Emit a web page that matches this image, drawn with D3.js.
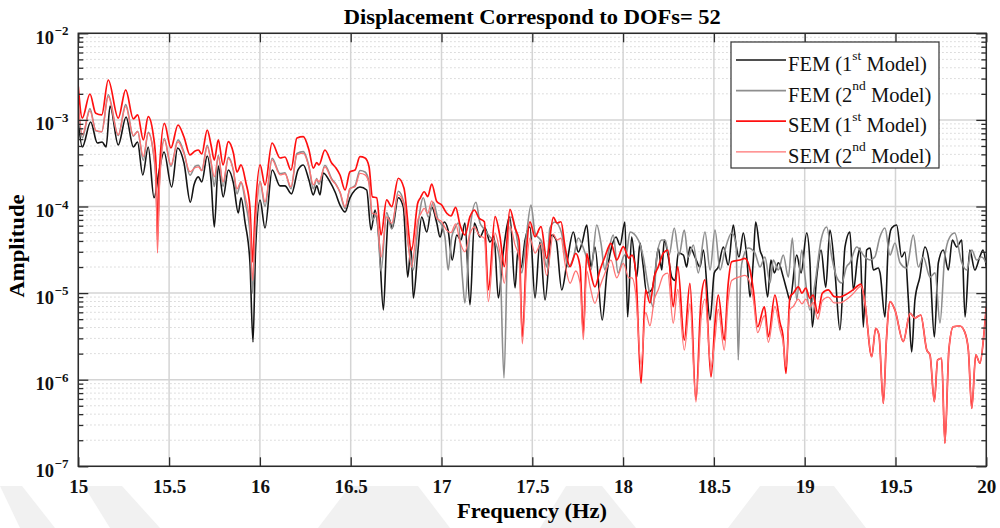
<!DOCTYPE html>
<html>
<head>
<meta charset="utf-8">
<script src="https://cdn.jsdelivr.net/npm/d3@7"></script>
<style>
  html, body { margin: 0; padding: 0; background: #fff; }
  svg { display: block; }
</style>
</head>
<body>
<svg id="chart" width="1000" height="528"></svg>
<script>
// ---- Data: displacement amplitude spectra at DOF 52 ----
// Frequency points (Hz) shared by both SEM responses
const semFreq = [
  15.000, 15.022, 15.064, 15.096, 15.129, 15.165, 15.220, 15.261, 15.303, 15.327,
  15.358, 15.385, 15.413, 15.428, 15.436, 15.447, 15.474, 15.510, 15.549, 15.582,
  15.615, 15.643, 15.661, 15.680, 15.710, 15.731, 15.749, 15.771, 15.797, 15.826,
  15.854, 15.874, 15.896, 15.922, 15.945, 15.960, 15.973, 16.001, 16.028, 16.067,
  16.111, 16.138, 16.171, 16.204, 16.239, 16.270, 16.294, 16.313, 16.325, 16.358,
  16.395, 16.419, 16.441, 16.469, 16.496, 16.524, 16.551, 16.579, 16.601, 16.619,
  16.643, 16.667, 16.698, 16.726, 16.762, 16.793, 16.835, 16.869, 16.884, 16.905,
  16.924, 16.946, 16.974, 17.001, 17.029, 17.052, 17.078, 17.102, 17.129, 17.157,
  17.181, 17.206, 17.236, 17.258, 17.295, 17.322, 17.346, 17.377, 17.405, 17.427,
  17.445, 17.469, 17.487, 17.515, 17.548, 17.579, 17.616, 17.636, 17.658, 17.680,
  17.708, 17.739, 17.763, 17.781, 17.800, 17.818, 17.845, 17.873, 17.900, 17.933,
  17.965, 18.001, 18.032, 18.049, 18.069, 18.099, 18.124, 18.148, 18.172, 18.194,
  18.221, 18.246, 18.276, 18.301, 18.337, 18.368, 18.401, 18.429, 18.451, 18.484,
  18.506, 18.524, 18.557, 18.578, 18.598, 18.644, 18.671, 18.699, 18.717, 18.741,
  18.778, 18.800, 18.836, 18.864, 18.880, 18.897, 18.919, 18.937, 18.965, 18.985,
  19.006, 19.029, 19.046, 19.072, 19.097, 19.130, 19.163, 19.194, 19.222, 19.266,
  19.310, 19.332, 19.369, 19.391, 19.409, 19.433, 19.450, 19.470, 19.497, 19.543,
  19.580, 19.606, 19.639, 19.672, 19.690, 19.714, 19.732, 19.754, 19.772, 19.794,
  19.818, 19.854, 19.881, 19.901, 19.920, 19.942, 19.965, 19.989, 20.000
];

// SEM, 1st model
const sem1Amp = [
  2.42e-3, 1.05e-3, 1.99e-3, 1.19e-3, 1.14e-3, 2.89e-3, 1.05e-3, 2.22e-3, 1.03e-3, 1.14e-3,
  5.87e-4, 1.09e-3, 6.69e-4, 3.02e-4, 4.10e-5, 2.64e-4, 9.14e-4, 4.74e-4, 8.73e-4, 6.35e-4,
  3.94e-4, 4.37e-4, 4.49e-4, 4.04e-4, 7.65e-4, 5.13e-4, 3.44e-4, 5.87e-4, 3.02e-4, 5.60e-4,
  4.14e-4, 2.50e-4, 3.02e-4, 1.92e-4, 9.87e-5, 2.29e-5, 7.98e-5, 3.02e-4, 1.77e-4, 5.41e-4,
  3.63e-4, 3.73e-4, 2.64e-4, 6.18e-4, 6.40e-4, 4.49e-4, 2.78e-4, 3.21e-4, 3.02e-4, 4.49e-4,
  3.18e-4, 2.78e-4, 2.31e-4, 1.55e-4, 2.52e-4, 2.64e-4, 3.76e-4, 3.63e-4, 2.88e-4, 1.30e-4,
  1.26e-4, 4.69e-5, 1.19e-4, 9.95e-5, 2.12e-4, 1.64e-4, 3.14e-5, 1.09e-4, 1.26e-4, 1.48e-4,
  1.30e-4, 1.82e-4, 1.14e-4, 1.04e-4, 8.35e-5, 7.77e-5, 9.79e-5, 6.12e-5, 4.69e-5, 7.63e-5,
  9.11e-5, 7.37e-5, 6.67e-5, 1.09e-5, 7.63e-5, 4.48e-5, 2.02e-5, 9.28e-5, 5.64e-5, 4.10e-5,
  3.14e-6, 3.29e-5, 6.67e-5, 4.48e-5, 5.85e-5, 2.52e-5, 7.50e-5, 6.45e-5, 6.67e-5, 3.44e-5,
  2.02e-5, 2.88e-5, 2.02e-5, 3.44e-6, 2.88e-5, 1.85e-5, 1.18e-5, 1.85e-5, 2.63e-5, 3.76e-5,
  2.41e-5, 3.44e-5, 2.54e-5, 2.75e-5, 1.85e-5, 9.09e-7, 1.09e-5, 7.69e-6, 1.55e-5, 2.02e-5,
  2.88e-5, 3.14e-5, 6.96e-6, 2.02e-5, 2.87e-6, 1.30e-5, 5.83e-7, 8.33e-6, 1.42e-5, 1.08e-6,
  4.51e-6, 9.51e-6, 2.87e-6, 1.24e-5, 2.30e-5, 2.41e-5, 2.52e-5, 1.85e-5, 1.09e-5, 4.09e-6,
  6.96e-6, 3.14e-6, 9.51e-6, 4.51e-6, 3.28e-6, 1.18e-6, 9.09e-6, 9.95e-6, 1.18e-5, 1.00e-5,
  1.14e-5, 8.71e-6, 9.51e-6, 5.85e-6, 9.95e-6, 1.09e-5, 9.09e-6, 9.02e-6, 9.51e-6, 1.09e-5,
  1.27e-5, 7.63e-6, 1.84e-6, 3.92e-6, 3.28e-6, 5.34e-7, 2.87e-6, 7.96e-6, 6.38e-6, 2.75e-6,
  5.85e-6, 5.16e-6, 5.58e-6, 2.21e-6, 1.93e-6, 5.57e-7, 1.69e-6, 1.77e-6, 1.84e-7, 2.21e-6,
  4.09e-6, 4.17e-6, 3.56e-6, 2.21e-6, 4.67e-7, 1.93e-6, 1.55e-6, 3.75e-6, 6.91e-6
];

// SEM, 2nd model
const sem2Amp = [
  1.55e-3, 6.7e-4, 1.27e-3, 7.6e-4, 7.3e-4, 1.85e-3, 6.7e-4, 1.42e-3, 6.6e-4, 7.3e-4,
  3.76e-4, 7.0e-4, 4.28e-4, 1.93e-4, 2.9e-5, 1.69e-4, 5.85e-4, 3.03e-4, 5.59e-4, 4.06e-4,
  2.52e-4, 2.80e-4, 2.87e-4, 2.59e-4, 4.90e-4, 3.28e-4, 2.20e-4, 3.76e-4, 1.93e-4, 3.58e-4,
  2.65e-4, 1.60e-4, 1.93e-4, 1.23e-4, 6.3e-5, 1.4e-5, 5.1e-5, 1.93e-4, 1.13e-4, 3.46e-4,
  2.32e-4, 2.39e-4, 1.69e-4, 3.96e-4, 4.10e-4, 2.87e-4, 1.78e-4, 2.05e-4, 1.93e-4, 2.87e-4,
  2.04e-4, 1.78e-4, 1.48e-4, 9.9e-5, 1.61e-4, 1.69e-4, 2.41e-4, 2.32e-4, 1.84e-4, 8.3e-5,
  8.1e-5, 2.6e-5, 7.6e-5, 6.4e-5, 1.36e-4, 1.05e-4, 2.0e-5, 7.0e-5, 8.1e-5, 9.5e-5,
  8.3e-5, 1.16e-4, 7.3e-5, 6.7e-5, 5.3e-5, 5.0e-5, 6.3e-5, 3.9e-5, 3.0e-5, 4.9e-5,
  5.8e-5, 4.7e-5, 4.3e-5, 8.0e-6, 4.9e-5, 2.9e-5, 1.3e-5, 5.9e-5, 3.6e-5, 2.6e-5,
  2.6e-6, 2.1e-5, 4.3e-5, 2.9e-5, 3.7e-5, 1.6e-5, 4.8e-5, 4.1e-5, 4.3e-5, 2.2e-5,
  1.3e-5, 1.8e-5, 1.3e-5, 2.9e-6, 1.8e-5, 1.2e-5, 7.6e-6, 1.2e-5, 1.7e-5, 2.4e-5,
  1.5e-5, 2.2e-5, 1.5e-5, 1.5e-5, 1.0e-5, 1.5e-6, 6.0e-6, 4.2e-6, 8.5e-6, 1.1e-5,
  1.6e-5, 1.7e-5, 4.5e-6, 1.1e-5, 2.2e-6, 7.5e-6, 5.5e-7, 5.0e-6, 8.5e-6, 1.4e-6,
  3.0e-6, 6.5e-6, 2.2e-6, 8.0e-6, 1.4e-5, 1.55e-5, 1.6e-5, 1.3e-5, 8.5e-6, 3.5e-6,
  5.5e-6, 2.7e-6, 7.0e-6, 3.8e-6, 2.8e-6, 1.4e-6, 6.5e-6, 7.0e-6, 8.5e-6, 7.5e-6,
  8.5e-6, 7.0e-6, 7.8e-6, 5.0e-6, 8.2e-6, 9.0e-6, 7.7e-6, 7.7e-6, 8.2e-6, 9.8e-6,
  1.2e-5, 7.63e-6, 1.84e-6, 3.92e-6, 3.28e-6, 5.34e-7, 2.87e-6, 7.96e-6, 6.38e-6, 2.75e-6,
  5.85e-6, 5.16e-6, 5.58e-6, 2.21e-6, 1.93e-6, 5.57e-7, 1.69e-6, 1.77e-6, 1.84e-7, 2.21e-6,
  4.09e-6, 4.17e-6, 3.56e-6, 2.21e-6, 4.67e-7, 1.93e-6, 1.55e-6, 3.75e-6, 6.91e-6
];

// FEM, 1st model
const fem1Freq = [
  15.000, 15.022, 15.068, 15.105, 15.131, 15.153, 15.175, 15.220, 15.263, 15.303,
  15.326, 15.355, 15.385, 15.417, 15.444, 15.472, 15.514, 15.547, 15.582, 15.617,
  15.637, 15.661, 15.680, 15.710, 15.731, 15.749, 15.771, 15.798, 15.826, 15.854,
  15.881, 15.896, 15.918, 15.945, 15.962, 15.976, 16.001, 16.028, 16.068, 16.111,
  16.138, 16.174, 16.210, 16.239, 16.270, 16.294, 16.313, 16.331, 16.349, 16.386,
  16.414, 16.441, 16.469, 16.496, 16.524, 16.551, 16.588, 16.612, 16.634, 16.656,
  16.680, 16.697, 16.707, 16.729, 16.762, 16.790, 16.814, 16.832, 16.845, 16.869,
  16.891, 16.919, 16.946, 16.974, 16.992, 17.015, 17.036, 17.059, 17.084, 17.107,
  17.129, 17.157, 17.181, 17.212, 17.240, 17.267, 17.289, 17.313, 17.340, 17.377,
  17.405, 17.421, 17.438, 17.460, 17.487, 17.515, 17.542, 17.570, 17.607, 17.631,
  17.662, 17.691, 17.726, 17.753, 17.774, 17.800, 17.823, 17.845, 17.885, 17.911,
  17.937, 17.961, 17.983, 18.010, 18.025, 18.047, 18.075, 18.093, 18.110, 18.130,
  18.158, 18.176, 18.194, 18.213, 18.227, 18.249, 18.268, 18.286, 18.304, 18.332,
  18.350, 18.368, 18.396, 18.423, 18.442, 18.479, 18.502, 18.524, 18.552, 18.579,
  18.607, 18.622, 18.638, 18.662, 18.681, 18.699, 18.717, 18.730, 18.754, 18.772,
  18.796, 18.814, 18.833, 18.855, 18.882, 18.901, 18.919, 18.956, 18.980, 19.011,
  19.029, 19.042, 19.066, 19.090, 19.116, 19.139, 19.167, 19.194, 19.222, 19.249,
  19.268, 19.292, 19.305, 19.323, 19.341, 19.360, 19.378, 19.405, 19.415, 19.442,
  19.460, 19.479, 19.506, 19.534, 19.552, 19.571, 19.589, 19.607, 19.634, 19.662,
  19.689, 19.714, 19.736, 19.763, 19.791, 19.813, 19.837, 19.865, 19.883, 19.909,
  19.937, 19.964, 19.982, 20.000
];
const fem1Amp = [
  9.46e-4, 4.87e-4, 9.46e-4, 5.41e-4, 5.55e-4, 4.87e-4, 1.45e-3, 5.13e-4, 1.08e-3, 4.87e-4,
  5.55e-4, 2.31e-4, 4.87e-4, 1.26e-4, 2.50e-4, 4.26e-4, 1.68e-4, 4.74e-4, 3.18e-4, 1.12e-4,
  1.77e-4, 2.20e-4, 1.92e-4, 3.83e-4, 2.02e-4, 5.80e-5, 2.94e-4, 1.29e-4, 2.64e-4, 1.87e-4,
  8.41e-5, 1.26e-4, 6.62e-5, 2.29e-5, 2.72e-6, 3.14e-5, 1.19e-4, 5.64e-5, 2.64e-4, 1.73e-4,
  1.73e-4, 1.40e-4, 2.64e-4, 3.02e-4, 2.02e-4, 1.36e-4, 1.73e-4, 1.36e-4, 2.44e-4, 1.92e-4,
  1.47e-4, 1.04e-4, 8.64e-5, 1.26e-4, 1.55e-4, 1.68e-4, 1.55e-4, 5.35e-5, 9.11e-5, 4.10e-5,
  6.38e-6, 3.59e-5, 7.56e-5, 5.64e-5, 1.26e-4, 9.87e-5, 1.53e-5, 3.41e-5, 8.78e-6, 2.90e-5,
  7.56e-5, 5.08e-5, 9.87e-5, 6.45e-5, 4.44e-5, 6.62e-5, 5.35e-5, 2.41e-5, 4.69e-5, 4.10e-5,
  6.45e-5, 7.29e-6, 6.45e-5, 4.44e-5, 5.64e-5, 3.89e-5, 4.56e-5, 8.78e-6, 2.98e-5, 7.56e-5,
  1.15e-5, 3.14e-5, 1.95e-5, 4.10e-5, 5.80e-5, 8.78e-6, 3.89e-5, 8.33e-6, 4.69e-5, 4.10e-5,
  1.09e-5, 2.24e-5, 5.08e-5, 2.98e-5, 3.79e-5, 6.12e-5, 2.00e-5, 3.41e-5, 4.89e-6, 1.71e-5,
  3.41e-5, 4.44e-5, 3.59e-5, 6.62e-5, 5.30e-6, 4.44e-5, 1.53e-5, 3.79e-5, 2.11e-5, 1.00e-5,
  1.09e-5, 1.71e-5, 3.32e-5, 1.85e-5, 4.10e-5, 2.61e-5, 1.53e-5, 1.40e-5, 2.90e-5, 2.75e-5,
  2.00e-5, 3.41e-5, 2.61e-5, 2.00e-5, 3.14e-5, 4.89e-6, 1.71e-5, 2.00e-5, 3.41e-5, 2.11e-5,
  6.12e-5, 3.59e-5, 2.61e-5, 4.95e-5, 2.61e-5, 9.02e-6, 2.41e-5, 6.62e-5, 3.14e-5, 2.41e-5,
  9.02e-6, 2.41e-5, 1.71e-5, 2.24e-5, 1.53e-5, 1.09e-5, 8.33e-6, 2.75e-5, 1.71e-5, 4.95e-5,
  2.24e-5, 4.06e-6, 1.53e-5, 3.14e-5, 1.17e-5, 5.35e-5, 1.71e-5, 3.75e-6, 3.41e-5, 5.08e-5,
  1.09e-5, 2.61e-5, 3.32e-5, 4.06e-6, 3.14e-5, 3.32e-5, 1.85e-5, 1.95e-5, 1.71e-5, 5.30e-6,
  3.41e-5, 5.64e-5, 6.12e-5, 2.61e-5, 2.98e-5, 8.33e-6, 2.09e-6, 8.33e-6, 1.53e-5, 3.41e-5,
  2.00e-5, 3.11e-6, 2.24e-5, 3.14e-5, 1.85e-5, 4.10e-5, 3.41e-5, 4.10e-5, 5.30e-6, 3.14e-5,
  1.85e-5, 2.61e-5, 3.14e-5, 2.00e-5
];

// FEM, 2nd model
const fem2Freq = [
  15.000, 15.022, 15.064, 15.096, 15.129, 15.165, 15.220, 15.261, 15.303, 15.327,
  15.358, 15.385, 15.413, 15.428, 15.436, 15.447, 15.474, 15.510, 15.549, 15.582,
  15.615, 15.643, 15.661, 15.680, 15.710, 15.731, 15.749, 15.771, 15.797, 15.826,
  15.854, 15.874, 15.896, 15.922, 15.945, 15.960, 15.973, 16.001, 16.028, 16.067,
  16.111, 16.138, 16.171, 16.204, 16.239, 16.270, 16.294, 16.313, 16.325, 16.358,
  16.395, 16.419, 16.441, 16.469, 16.496, 16.524, 16.551, 16.579, 16.601, 16.619,
  16.643, 16.667, 16.698, 16.726, 16.762, 16.793, 16.814, 16.832, 16.845, 16.872,
  16.900, 16.927, 16.955, 16.982, 17.001, 17.019, 17.037, 17.056, 17.074, 17.093,
  17.115, 17.129, 17.157, 17.190, 17.212, 17.240, 17.267, 17.295, 17.322, 17.344,
  17.368, 17.383, 17.405, 17.421, 17.442, 17.465, 17.493, 17.515, 17.552, 17.579,
  17.597, 17.625, 17.661, 17.698, 17.726, 17.753, 17.789, 17.823, 17.855, 17.878,
  17.900, 17.918, 17.946, 17.972, 18.001, 18.020, 18.038, 18.084, 18.111, 18.139,
  18.166, 18.185, 18.213, 18.231, 18.253, 18.282, 18.308, 18.337, 18.359, 18.387,
  18.414, 18.451, 18.479, 18.506, 18.534, 18.561, 18.598, 18.622, 18.634, 18.649,
  18.662, 18.689, 18.726, 18.754, 18.781, 18.809, 18.827, 18.855, 18.882, 18.910,
  18.932, 18.956, 18.984, 19.002, 19.029, 19.057, 19.090, 19.121, 19.149, 19.176,
  19.204, 19.230, 19.249, 19.286, 19.332, 19.360, 19.386, 19.414, 19.442, 19.470,
  19.497, 19.525, 19.561, 19.598, 19.626, 19.653, 19.690, 19.718, 19.745, 19.771,
  19.799, 19.826, 19.865, 19.892, 19.920, 19.947, 19.974, 20.000
];
const fem2Amp = [
  1.5e-3, 6.2e-4, 1.35e-3, 7.5e-4, 7.3e-4, 1.95e-3, 6.6e-4, 1.5e-3, 6.5e-4, 7.4e-4,
  3.4e-4, 7.2e-4, 4.2e-4, 1.9e-4, 6.0e-5, 2.0e-4, 6.1e-4, 2.9e-4, 5.9e-4, 4.2e-4,
  2.3e-4, 2.9e-4, 3.0e-4, 2.6e-4, 5.1e-4, 3.2e-4, 1.7e-4, 3.9e-4, 1.7e-4, 3.7e-4,
  2.6e-4, 1.4e-4, 1.9e-4, 1.05e-4, 5.0e-5, 1.0e-5, 4.2e-5, 1.95e-4, 1.0e-4, 3.6e-4,
  2.4e-4, 2.45e-4, 1.6e-4, 4.1e-4, 4.3e-4, 2.9e-4, 1.6e-4, 2.1e-4, 1.8e-4, 3.0e-4,
  2.1e-4, 1.8e-4, 1.45e-4, 9.5e-5, 1.6e-4, 1.75e-4, 2.6e-4, 2.5e-4, 1.9e-4, 7.0e-5,
  8.0e-5, 1.8e-5, 8.5e-5, 5.5e-5, 1.5e-4, 1.1e-4, 4.1e-5, 2.41e-5, 1.85e-5, 6.45e-5,
  1.26e-4, 7.56e-5, 1.12e-4, 6.96e-5, 6.12e-5, 4.44e-5, 1.85e-5, 4.44e-5, 5.64e-5, 6.45e-5,
  1.53e-5, 7.69e-6, 5.35e-5, 1.12e-4, 6.45e-5, 5.35e-5, 4.44e-5, 3.89e-5, 2.24e-5, 1.05e-6,
  6.12e-5, 7.56e-5, 5.80e-5, 3.59e-5, 1.71e-5, 4.10e-5, 1.04e-4, 4.95e-5, 3.89e-5, 2.00e-5,
  5.64e-5, 6.62e-5, 4.95e-5, 2.00e-5, 2.54e-5, 4.33e-5, 2.98e-5, 1.85e-5, 6.12e-5, 3.79e-5,
  1.85e-5, 2.90e-5, 4.69e-5, 1.71e-5, 2.61e-5, 3.0e-5, 5.08e-5, 4.10e-5, 2.61e-5, 1.17e-5,
  6.91e-6, 2.61e-5, 4.10e-5, 4.10e-5, 2.75e-5, 5.64e-5, 2.75e-5, 5.35e-5, 2.61e-5, 3.59e-5,
  1.71e-5, 5.08e-5, 1.85e-5, 5.35e-5, 1.85e-5, 3.14e-5, 4.95e-5, 3.79e-5, 1.69e-6, 1.85e-5,
  2.61e-5, 3.32e-5, 2.90e-5, 2.00e-5, 2.61e-5, 1.31e-5, 2.41e-5, 1.85e-5, 2.75e-5, 1.53e-5,
  4.33e-5, 8.33e-6, 3.14e-5, 1.53e-5, 6.38e-6, 1.31e-5, 4.10e-5, 5.80e-5, 2.61e-5, 1.53e-5,
  1.31e-5, 2.00e-5, 2.24e-5, 3.41e-5, 2.61e-5, 2.41e-5, 2.61e-5, 4.44e-5, 5.64e-5, 2.75e-5,
  3.79e-5, 2.24e-5, 1.95e-5, 4.69e-5, 2.00e-5, 2.61e-5, 1.53e-5, 1.71e-5, 4.51e-6, 2.61e-5,
  4.44e-5, 4.95e-5, 2.24e-5, 1.85e-5, 3.14e-5, 2.41e-5, 2.61e-5, 2.24e-5
];

// Axis ticks and labels
const xTicks = [15, 15.5, 16, 16.5, 17, 17.5, 18, 18.5, 19, 19.5, 20];
const yExponents = [-2, -3, -4, -5, -6, -7];
const legendModels = ["FEM", "FEM", "SEM", "SEM"];
const legendOrdinals = ["1", "2", "1", "2"];
const legendSuffixes = ["st", "nd", "st", "nd"];

// ---- Layout ----
const W = 1000, H = 528;
const plot = { left: 78.3, right: 986.3, top: 33.3, bottom: 466.3 };
const FONT = '"Liberation Serif", "Times New Roman", Times, serif';

const svg = d3.select("#chart");
svg.append("rect").attr("width", W).attr("height", H).attr("fill", "#fff");

// faint page watermark bands along the bottom edge
const wm = svg.append("g").attr("fill", "#f1f1f1");
[
  [[0, 486], [22, 486], [55, 528], [20, 528]],
  [[84, 486], [122, 486], [160, 528], [110, 528]],
  [[350, 486], [418, 486], [450, 528], [318, 528]],
  [[566, 486], [602, 486], [636, 528], [540, 528]],
  [[760, 486], [834, 486], [866, 528], [728, 528]]
].forEach(p => wm.append("polygon").attr("points", p.map(q => q.join(",")).join(" ")));

const x = d3.scaleLinear().domain([15, 20]).range([plot.left, plot.right]);
const y = d3.scaleLog().domain([1e-7, 1e-2]).range([plot.bottom, plot.top]);

const decadeVals = yExponents.map(e => Math.pow(10, e));
const minorVals = [];
yExponents.filter(e => e < -2).forEach(e => {
  for (let m = 2; m <= 9; m++) minorVals.push(m * Math.pow(10, e));
});

// plot background
svg.append("rect")
  .attr("x", plot.left).attr("y", plot.top)
  .attr("width", plot.right - plot.left).attr("height", plot.bottom - plot.top)
  .attr("fill", "#fff");

// ---- Grid ----
const grid = svg.append("g");
grid.selectAll("line.ymin").data(minorVals).join("line")
  .attr("class", "ymin")
  .attr("x1", plot.left).attr("x2", plot.right)
  .attr("y1", d => y(d)).attr("y2", d => y(d))
  .attr("stroke", "#cdcdcd").attr("stroke-width", 1)
  .attr("stroke-dasharray", "1.3,2.7");
grid.selectAll("line.ymaj").data(decadeVals).join("line")
  .attr("class", "ymaj")
  .attr("x1", plot.left).attr("x2", plot.right)
  .attr("y1", d => y(d)).attr("y2", d => y(d))
  .attr("stroke", "#d4d4d4").attr("stroke-width", 1.5);
grid.selectAll("line.xmaj").data(xTicks).join("line")
  .attr("class", "xmaj")
  .attr("x1", d => x(d)).attr("x2", d => x(d))
  .attr("y1", plot.top).attr("y2", plot.bottom)
  .attr("stroke", "#d4d4d4").attr("stroke-width", 1.5);

// ---- Series ----
svg.append("clipPath").attr("id", "plotClip")
  .append("rect")
  .attr("x", plot.left).attr("y", plot.top)
  .attr("width", plot.right - plot.left).attr("height", plot.bottom - plot.top);

const series = [
  { freq: fem1Freq, amp: fem1Amp, color: "#151515", width: 1.6 },
  { freq: fem2Freq, amp: fem2Amp, color: "#8e8e8e", width: 1.6 },
  { freq: semFreq,  amp: sem1Amp, color: "#ff1010", width: 1.7 },
  { freq: semFreq,  amp: sem2Amp, color: "#ff7373", width: 1.3 }
];

const line = d3.line()
  .x(d => x(d[0]))
  .y(d => y(d[1]))
  .curve(d3.curveMonotoneX);

const lines = svg.append("g").attr("clip-path", "url(#plotClip)");
series.forEach(s => {
  lines.append("path")
    .datum(d3.zip(s.freq, s.amp))
    .attr("fill", "none")
    .attr("stroke", s.color)
    .attr("stroke-width", s.width)
    .attr("stroke-linejoin", "round")
    .attr("d", line);
});

// ---- Axes ----
const axisColor = "#2b2b2b";
function styleAxis(g) {
  g.select(".domain").remove();
  g.selectAll(".tick line").attr("stroke", axisColor).attr("stroke-width", 1.3);
}

const gx = svg.append("g")
  .attr("transform", `translate(0,${plot.bottom})`)
  .call(d3.axisBottom(x).tickValues(xTicks).tickSize(-9).tickSizeOuter(0)
    .tickPadding(13).tickFormat(d => String(d)));
styleAxis(gx);
gx.selectAll(".tick text")
  .attr("font-family", FONT).attr("font-size", 19).attr("font-weight", "bold")
  .attr("fill", "#111");

svg.append("g")
  .attr("transform", `translate(0,${plot.top})`)
  .call(d3.axisTop(x).tickValues(xTicks).tickSize(-9).tickSizeOuter(0).tickFormat(""))
  .call(styleAxis);

svg.append("g").attr("transform", `translate(${plot.left},0)`)
  .call(d3.axisLeft(y).tickValues(decadeVals).tickSize(-10).tickSizeOuter(0).tickFormat(""))
  .call(styleAxis);
svg.append("g").attr("transform", `translate(${plot.left},0)`)
  .call(d3.axisLeft(y).tickValues(minorVals).tickSize(-5).tickSizeOuter(0).tickFormat(""))
  .call(styleAxis);
svg.append("g").attr("transform", `translate(${plot.right},0)`)
  .call(d3.axisRight(y).tickValues(decadeVals).tickSize(-10).tickSizeOuter(0).tickFormat(""))
  .call(styleAxis);
svg.append("g").attr("transform", `translate(${plot.right},0)`)
  .call(d3.axisRight(y).tickValues(minorVals).tickSize(-5).tickSizeOuter(0).tickFormat(""))
  .call(styleAxis);

// Plot frame
svg.append("rect")
  .attr("x", plot.left).attr("y", plot.top)
  .attr("width", plot.right - plot.left).attr("height", plot.bottom - plot.top)
  .attr("fill", "none").attr("stroke", axisColor).attr("stroke-width", 1.5);

// Y tick labels: 10 with a superscript exponent
const yl = svg.append("g")
  .attr("font-family", FONT).attr("font-weight", "bold").attr("fill", "#111");
yl.selectAll("text.base").data(yExponents).join("text")
  .attr("class", "base")
  .attr("x", 54).attr("y", e => y(Math.pow(10, e)) + 10.5)
  .attr("text-anchor", "end").attr("font-size", 18.5)
  .text("10");
yl.selectAll("text.exp").data(yExponents).join("text")
  .attr("class", "exp")
  .attr("x", 54.5).attr("y", e => y(Math.pow(10, e)) + 2)
  .attr("font-size", 13)
  .text(e => "\u2212" + Math.abs(e));

// ---- Titles ----
svg.append("text")
  .attr("x", (plot.left + plot.right) / 2).attr("y", 24)
  .attr("text-anchor", "middle")
  .attr("font-family", FONT).attr("font-weight", "bold").attr("font-size", 20)
  .attr("textLength", 377).attr("lengthAdjust", "spacingAndGlyphs")
  .attr("fill", "#000")
  .text("Displacement Correspond to DOFs= 52");

svg.append("text")
  .attr("x", 532).attr("y", 518)
  .attr("text-anchor", "middle")
  .attr("font-family", FONT).attr("font-weight", "bold").attr("font-size", 20)
  .attr("textLength", 150).attr("lengthAdjust", "spacingAndGlyphs")
  .attr("fill", "#000")
  .text("Frequency (Hz)");

svg.append("text")
  .attr("transform", "translate(24,246) rotate(-90)")
  .attr("text-anchor", "middle")
  .attr("font-family", FONT).attr("font-weight", "bold").attr("font-size", 20)
  .attr("textLength", 103).attr("lengthAdjust", "spacingAndGlyphs")
  .attr("fill", "#000")
  .text("Amplitude");

// ---- Legend ----
const lg = svg.append("g");
lg.append("rect")
  .attr("x", 731).attr("y", 42).attr("width", 208).attr("height", 126)
  .attr("fill", "#fff").attr("stroke", "#333").attr("stroke-width", 1.2);
series.forEach((s, i) => {
  const cy = 60 + i * 30.6;
  lg.append("line")
    .attr("x1", 736).attr("x2", 786).attr("y1", cy).attr("y2", cy)
    .attr("stroke", s.color).attr("stroke-width", s.width);
  const t = lg.append("text")
    .attr("x", 788).attr("y", cy + 11)
    .attr("font-family", FONT).attr("font-size", 20.5).attr("fill", "#111");
  t.append("tspan").text(legendModels[i] + " (" + legendOrdinals[i]);
  t.append("tspan").attr("dy", -11.5).attr("font-size", 13.5).text(legendSuffixes[i]);
  t.append("tspan").attr("dy", 11.5).text(" Model)");
});
</script>
</body>
</html>
